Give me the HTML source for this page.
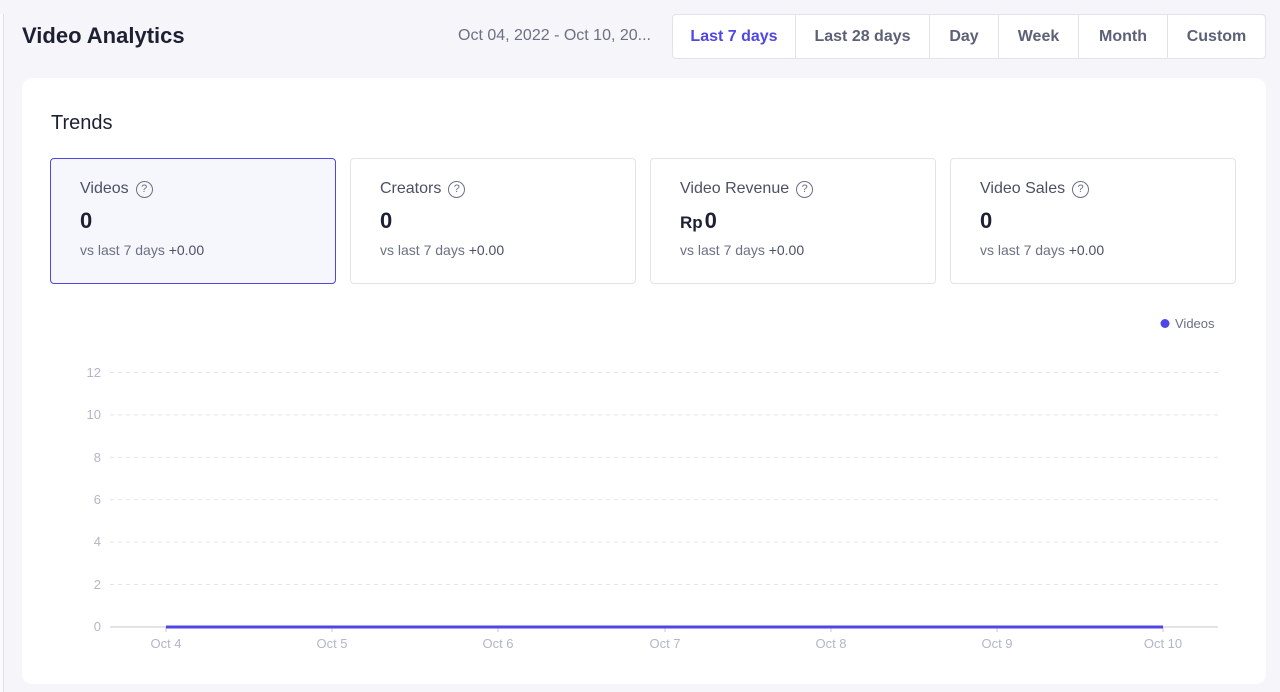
<!DOCTYPE html>
<html><head><meta charset="utf-8"><style>
*{box-sizing:border-box;margin:0;padding:0}
body{width:1280px;height:692px;overflow:hidden;background:#f6f6fa;font-family:"Liberation Sans",sans-serif;position:relative;color:#1d2033}
.strip{position:absolute;left:0;top:14px;width:4px;height:678px;background:#fbfbfd;border-right:1px solid #dfe0e8}
h1{position:absolute;left:22px;top:23px;font-size:22px;font-weight:bold;color:#1d2033}
.date{position:absolute;left:458px;top:27px;font-size:16px;color:#6b7084}
.btns{position:absolute;left:672px;top:14px;height:45px;width:594px;display:flex;border:1px solid #e1e3ee;border-radius:4px;background:#fff}
.btns div{height:100%;display:flex;align-items:center;justify-content:center;font-size:16px;color:#5c6178;border-right:1px solid #e1e3ee;font-weight:bold}
.btns div:last-child{border-right:none}
.card{position:absolute;left:22px;top:78px;width:1244px;height:606px;background:#fff;border-radius:10px}
.trends{position:absolute;left:51px;top:112px;font-size:20px;color:#1d2033}
.m{position:absolute;top:158px;width:286px;height:126px;border:1px solid #e1e3ee;border-radius:4px;background:#fff}
.m.act{border-color:#4f46e5;background:#f6f7fc}
.m .l{position:absolute;left:29px;top:21px;font-size:16px;color:#4b5066;display:flex;align-items:center}
.q{display:inline-block;width:17px;height:17px;border:1.3px solid #6b7084;border-radius:50%;font-size:11px;text-align:center;line-height:14px;color:#6b7084;margin-left:7px}
.m .v{position:absolute;left:29px;top:49px;font-size:22px;font-weight:bold;color:#1d2033}
.m .v small{font-size:17px;font-weight:bold;margin-right:2px}
.m .s{position:absolute;left:29px;top:83px;font-size:14px;color:#6b7084}
.m .s b{color:#4b5066;font-weight:normal;font-size:14px}
svg{position:absolute;left:0;top:0}
</style></head><body>
<div class="strip"></div>
<h1>Video Analytics</h1>
<div class="date">Oct 04, 2022 - Oct 10, 20...</div>
<div class="btns">
<div style="width:123px;color:#4f46e5">Last 7 days</div>
<div style="width:134px">Last 28 days</div>
<div style="width:69px">Day</div>
<div style="width:80px">Week</div>
<div style="width:89px">Month</div>
<div style="flex:1">Custom</div>
</div>
<div class="card"></div>
<div class="trends">Trends</div>
<div class="m act" style="left:50px"><div class="l">Videos<span class="q">?</span></div><div class="v">0</div><div class="s">vs last 7 days <b>+0.00</b></div></div>
<div class="m" style="left:350px"><div class="l">Creators<span class="q">?</span></div><div class="v">0</div><div class="s">vs last 7 days <b>+0.00</b></div></div>
<div class="m" style="left:650px"><div class="l">Video Revenue<span class="q">?</span></div><div class="v"><small>Rp</small>0</div><div class="s">vs last 7 days <b>+0.00</b></div></div>
<div class="m" style="left:950px"><div class="l">Video Sales<span class="q">?</span></div><div class="v">0</div><div class="s">vs last 7 days <b>+0.00</b></div></div>
<svg width="1280" height="692" font-family="Liberation Sans, sans-serif">
<circle cx="1165" cy="323.5" r="4.5" fill="#4f46e5"/>
<text x="1175" y="328" font-size="13" fill="#6b7084">Videos</text>
<g stroke="#e3e4ec" stroke-dasharray="4,4" stroke-width="1">
<line x1="110" x2="1218" y1="372.5" y2="372.5"/>
<line x1="110" x2="1218" y1="414.9" y2="414.9"/>
<line x1="110" x2="1218" y1="457.3" y2="457.3"/>
<line x1="110" x2="1218" y1="499.7" y2="499.7"/>
<line x1="110" x2="1218" y1="542.1" y2="542.1"/>
<line x1="110" x2="1218" y1="584.5" y2="584.5"/>
</g>
<g font-size="13" fill="#b3b6c8" text-anchor="end">
<text x="101" y="377">12</text><text x="101" y="419">10</text><text x="101" y="462">8</text><text x="101" y="504">6</text><text x="101" y="546">4</text><text x="101" y="589">2</text><text x="101" y="631">0</text>
</g>
<line x1="110" x2="1218" y1="627" y2="627" stroke="#c8c9d2" stroke-width="1"/>
<g stroke="#c8c9d2"><line x1="166" x2="166" y1="627" y2="632"/><line x1="332" x2="332" y1="627" y2="632"/><line x1="498" x2="498" y1="627" y2="632"/><line x1="665" x2="665" y1="627" y2="632"/><line x1="831" x2="831" y1="627" y2="632"/><line x1="997" x2="997" y1="627" y2="632"/><line x1="1163" x2="1163" y1="627" y2="632"/></g>
<line x1="166" x2="1163" y1="627" y2="627" stroke="#4f46e5" stroke-width="3"/>
<g font-size="13" fill="#b3b6c8" text-anchor="middle">
<text x="166" y="648">Oct 4</text><text x="332" y="648">Oct 5</text><text x="498" y="648">Oct 6</text><text x="665" y="648">Oct 7</text><text x="831" y="648">Oct 8</text><text x="997" y="648">Oct 9</text><text x="1163" y="648">Oct 10</text>
</g>
</svg>
</body></html>
